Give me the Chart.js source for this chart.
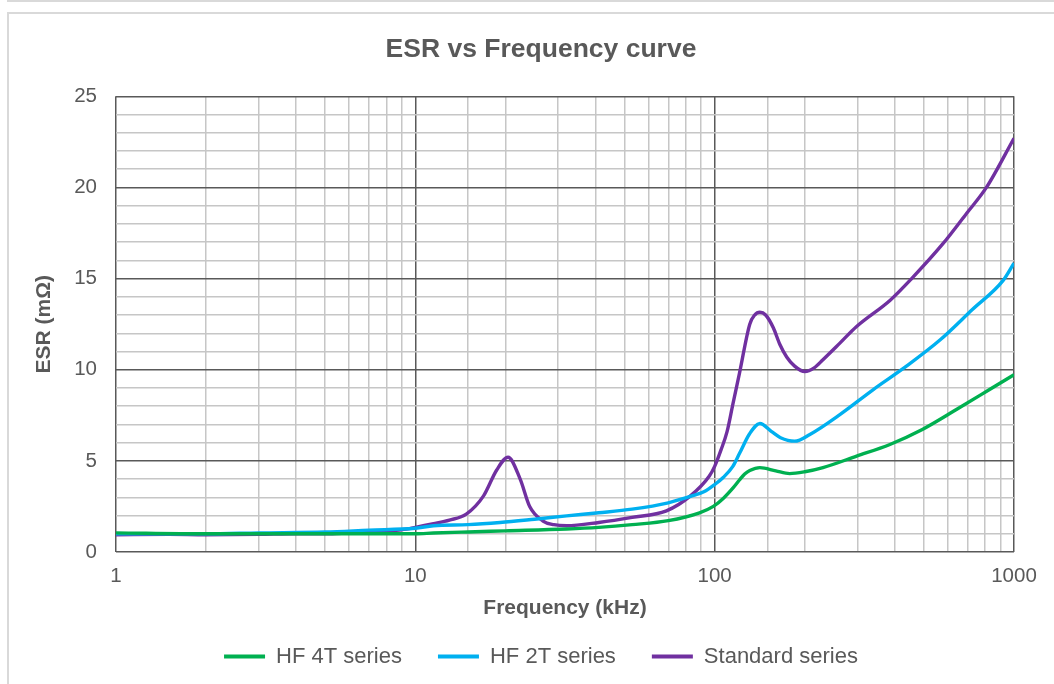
<!DOCTYPE html>
<html>
<head>
<meta charset="utf-8">
<script src="https://cdn.jsdelivr.net/npm/chart.js@4/dist/chart.umd.min.js"></script>
<style>
  html, body { margin: 0; padding: 0; background: #ffffff; }
  #wrap { position: relative; width: 1054px; height: 684px; overflow: hidden; }
  #topline { position: absolute; left: 7px; top: 0; width: 1100px; height: 2px; background: #d9d9d9; }
  #frame { position: absolute; left: 7px; top: 12px; width: 1100px; height: 700px; border-top: 2px solid #d9d9d9; border-left: 2px solid #d9d9d9; }
  canvas { position: absolute; left: 0; top: 0; }
</style>
</head>
<body>
<div id="wrap">
  <div id="topline"></div>
  <div id="frame"></div>
  <canvas id="c" width="1054" height="684"></canvas>
</div>
<script>
// ---- data ----
const seriesNames = ["HF 4T series", "HF 2T series", "Standard series"];

const hf4tFreq = [1, 2, 3, 5, 7, 10, 11.5, 15, 20, 32, 41, 53, 70, 89, 99, 107, 115, 121, 126, 131, 141.6, 160, 178, 200, 230, 298, 385, 494, 640, 826, 1000];
const hf4tEsr  = [1.05, 1.0, 1.0, 1.0, 1.0, 1.0, 1.04, 1.1, 1.16, 1.26, 1.35, 1.5, 1.72, 2.15, 2.5, 2.95, 3.5, 3.95, 4.28, 4.47, 4.63, 4.45, 4.3, 4.4, 4.63, 5.26, 5.9, 6.72, 7.8, 8.9, 9.73];

const hf2tFreq = [1, 2, 3, 5, 7, 10, 11.5, 15, 19.2, 25, 32, 41, 53, 70, 85, 92, 100, 107, 115, 121, 131, 141.6, 155, 166, 185, 208, 262, 338, 436, 567, 726, 920, 1000];
const hf2tEsr  = [1.0, 1.0, 1.05, 1.1, 1.2, 1.3, 1.44, 1.5, 1.62, 1.8, 1.98, 2.15, 2.35, 2.7, 3.1, 3.3, 3.7, 4.1, 4.7, 5.4, 6.5, 7.05, 6.6, 6.27, 6.08, 6.45, 7.54, 8.9, 10.18, 11.64, 13.3, 14.9, 15.85];

const stdFreq = [1, 1.5, 2, 3, 4, 5, 6, 7, 8, 9, 10, 11.5, 13, 14.8, 16.9, 18.7, 20.4, 22.4, 24.1, 26.7, 29, 32, 41, 53, 69, 83, 96, 100, 105, 110, 115, 121, 131, 136, 141.6, 148, 157, 165, 174, 185, 200, 215, 230, 262, 298, 385, 455, 578, 693, 809, 1000];
const stdEsr  = [0.95, 0.97, 0.95, 0.97, 1.0, 1.0, 1.05, 1.1, 1.15, 1.22, 1.35, 1.55, 1.75, 2.08, 3.08, 4.5, 5.2, 4.0, 2.5, 1.7, 1.5, 1.44, 1.62, 1.9, 2.26, 3.08, 4.17, 4.7, 5.6, 6.6, 8.1, 9.8, 12.5, 13.0, 13.15, 13.0, 12.3, 11.4, 10.7, 10.2, 9.9, 10.1, 10.55, 11.46, 12.37, 13.8, 15.0, 16.9, 18.56, 20.0, 22.7];

const xTickLabels = [1, 10, 100, 1000];
const yMajorStep = 5;

const colors = ["#00B050", "#00B0F0", "#7030A0"];

function toPoints(fs, vs) { return fs.map((f, i) => ({ x: f, y: vs[i] })); }

const FONT = "'Liberation Sans', Arial, Helvetica, sans-serif";
const GREY_TEXT = "#595959";
const MAJOR = "#595959";
const MINOR = "#c6c6c6";

function isDecade(v) {
  const l = Math.log10(v);
  return Math.abs(l - Math.round(l)) < 1e-9;
}

const datasets = [
  { label: seriesNames[0], data: toPoints(hf4tFreq, hf4tEsr), borderColor: colors[0], backgroundColor: colors[0] },
  { label: seriesNames[1], data: toPoints(hf2tFreq, hf2tEsr), borderColor: colors[1], backgroundColor: colors[1] },
  { label: seriesNames[2], data: toPoints(stdFreq, stdEsr), borderColor: colors[2], backgroundColor: colors[2] }
].map(d => Object.assign(d, { borderWidth: 3.4, pointRadius: 0, cubicInterpolationMode: 'monotone', fill: false }));

new Chart(document.getElementById('c'), {
  type: 'line',
  data: { datasets },
  options: {
    responsive: false,
    animation: false,
    layout: { padding: { left: 68, right: 40, top: 0, bottom: 6.5 } },
    plugins: {
      title: {
        display: true,
        text: 'ESR vs Frequency curve',
        color: GREY_TEXT,
        font: { family: FONT, size: 26.5, weight: 'bold' },
        padding: { top: 33.5, bottom: 31 }
      },
      legend: {
        display: true,
        position: 'bottom',
        labels: {
          color: GREY_TEXT,
          font: { family: FONT, size: 22 },
          boxWidth: 41,
          boxHeight: 4,
          padding: 36,
          generateLabels: (chart) => Chart.defaults.plugins.legend.labels.generateLabels(chart).map(l => Object.assign(l, { lineWidth: 0, fillStyle: l.strokeStyle }))
        }
      },
      tooltip: { enabled: false }
    },
    scales: {
      x: {
        type: 'logarithmic',
        min: 1,
        max: 1000,
        afterFit: (s) => { s.height = 57.5; },
        border: { display: false },
        grid: {
          drawTicks: false,
          color: (ctx) => (ctx.tick && isDecade(ctx.tick.value)) ? MAJOR : MINOR,
          lineWidth: 1.5
        },
        ticks: {
          autoSkip: false,
          maxRotation: 0,
          padding: 12.5,
          color: GREY_TEXT,
          font: { family: FONT, size: 20.5 },
          callback: (v) => xTickLabels.includes(v) ? String(v) : ''
        },
        title: {
          display: true,
          text: 'Frequency (kHz)',
          color: GREY_TEXT,
          font: { family: FONT, size: 21, weight: 'bold' },
          padding: { top: 0, bottom: -11 }
        }
      },
      y: {
        min: 0,
        max: 25,
        afterFit: (s) => { s.width = 48; },
        border: { display: false },
        grid: {
          drawTicks: false,
          color: (ctx) => (ctx.tick && ctx.tick.value % yMajorStep === 0) ? MAJOR : MINOR,
          lineWidth: 1.5
        },
        ticks: {
          stepSize: 1,
          autoSkip: false,
          padding: 19,
          color: GREY_TEXT,
          font: { family: FONT, size: 20.5 },
          callback: (v) => (v % yMajorStep === 0) ? String(v) : ''
        },
        title: {
          display: true,
          text: 'ESR (mΩ)',
          color: GREY_TEXT,
          font: { family: FONT, size: 21, weight: 'bold' },
          padding: { top: -36, bottom: 0 }
        }
      }
    }
  }
});
</script>
</body>
</html>
